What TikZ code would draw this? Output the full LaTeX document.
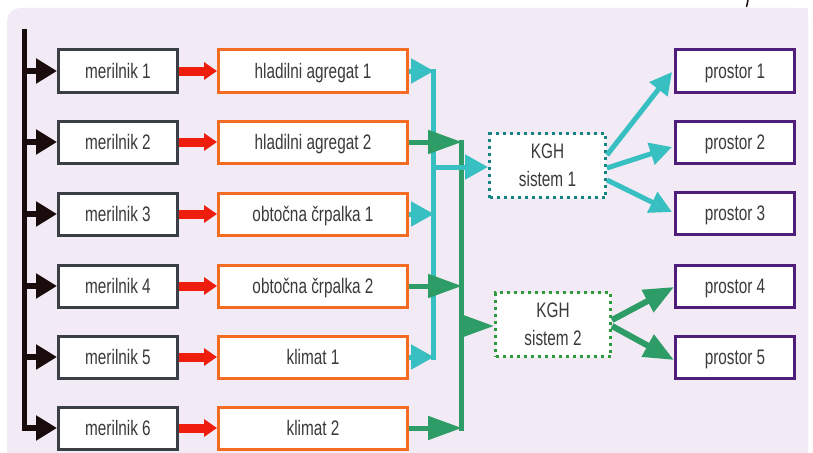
\documentclass[tikz,border=0pt]{standalone}
\usepackage{fontspec}
\setmainfont{Liberation Sans}[FakeStretch=0.73]
\usetikzlibrary{arrows.meta,calc}
\definecolor{bgcol}{HTML}{F2EAF4}
\definecolor{blk}{HTML}{1A0C0C}
\definecolor{mer}{HTML}{3A3F45}
\definecolor{orng}{HTML}{F36C21}
\definecolor{redc}{HTML}{EE1D0E}
\definecolor{cyanc}{HTML}{38BFC1}
\definecolor{greenc}{HTML}{2E9C66}
\definecolor{tealdot}{HTML}{168383}
\definecolor{greendot}{HTML}{2E9A3E}
\definecolor{purp}{HTML}{4E1E7A}
\definecolor{txt}{HTML}{3A3A3A}
\tikzset{
  boxbase/.style={draw, line width=3pt, fill=white, minimum height=42pt, inner sep=0pt,
    text height=15.5pt, text depth=0pt, font=\fontsize{21}{28}\selectfont, text=txt},
  mbox/.style={boxbase, draw=mer, minimum width=119pt},
  obox/.style={boxbase, draw=orng, minimum width=189pt},
  pbox/.style={boxbase, draw=purp, minimum width=119pt},
  kbox/.style={draw, line width=3pt, dash pattern=on 3pt off 4pt, fill=white,
    minimum height=64pt, inner sep=0pt, align=center,
    font=\fontsize{21}{28}\selectfont, text=txt},
  blkarrow/.style={draw=blk, line width=5.5pt, -{Triangle[length=21pt,width=24pt]}},
  redarrow/.style={draw=redc, line width=9pt, -{Triangle[length=13pt,width=17pt]}},
  cyanrow/.style={draw=cyanc, line width=5pt, -{Triangle[length=23pt,width=24pt]}},
  greenrow/.style={draw=greenc, line width=5pt, -{Triangle[length=34pt,width=23pt]}},
  cyandiag/.style={draw=cyanc, line width=5pt, -{Triangle[length=22pt,width=22pt]}},
  greendiag/.style={draw=greenc, line width=6pt, -{Triangle[length=30pt,width=24pt]}},
  busline/.style={line width=5pt}
}
\begin{document}
\begin{tikzpicture}[x=1pt,y=-1pt]
\useasboundingbox (0,0) rectangle (813,452);
\fill[white] (0,0) rectangle (813,452);
\fill[bgcol, rounded corners=13pt] (7,8) rectangle (808,490);
\fill[bgcol] (780,8) rectangle (808,60);
\draw[blk, line width=1.5pt] (748,0) -- (746.5,7);

% merilnik boxes
\node[mbox] (m1) at (118,71) {merilnik 1};
\node[mbox] (m2) at (118,142) {merilnik 2};
\node[mbox] (m3) at (118,214) {merilnik 3};
\node[mbox] (m4) at (118,286) {merilnik 4};
\node[mbox] (m5) at (118,357) {merilnik 5};
\node[mbox] (m6) at (118,428) {merilnik 6};
% orange boxes
\node[obox] (o1) at (313,71) {hladilni agregat 1};
\node[obox] (o2) at (313,142) {hladilni agregat 2};
\node[obox] (o3) at (313,214) {obtočna črpalka 1};
\node[obox] (o4) at (313,286) {obtočna črpalka 2};
\node[obox] (o5) at (313,357) {klimat 1};
\node[obox] (o6) at (313,428) {klimat 2};
% KGH
\node[kbox, draw=tealdot, minimum width=116pt] (k1) at (547.5,165.5) {KGH\\sistem 1};
\node[kbox, draw=greendot, minimum width=115pt] (k2) at (553,324.5) {KGH\\sistem 2};
% prostor
\node[pbox] (p1) at (735,71) {prostor 1};
\node[pbox] (p2) at (735,142) {prostor 2};
\node[pbox] (p3) at (735,213) {prostor 3};
\node[pbox] (p4) at (735,286) {prostor 4};
\node[pbox] (p5) at (735,357) {prostor 5};

% black bus
\coordinate (btop) at (24.5,32);
\coordinate (bbot) at (24.5,428);
\draw[blk, line width=5.5pt, line cap=rect] (btop) -- (bbot);
\foreach \i/\y in {1/71,2/142,3/214,4/286,5/357,6/428}{
  \coordinate (b\i) at (24.5,\y);
  \draw[blkarrow] (b\i) -- (m\i.west);
  \draw[redarrow] (m\i.east) -- (o\i.west);
}

% cyan / green collectors
\coordinate (ctop) at (433.5,68.5);
\coordinate (cbot) at (433.5,359.5);
\coordinate (gtop) at (461.5,139.5);
\coordinate (gbot) at (461.5,430.5);
\draw[cyanc, busline] (ctop) -- (cbot);
\draw[greenc, busline] (gtop) -- (gbot);
\foreach \i/\y in {1/71,3/214,5/357}{
  \coordinate (c\i) at (434,\y);
  \draw[cyanrow] (o\i.east) -- (c\i);
}
\coordinate (ck) at (433.5,167);
\draw[cyanrow] (ck) -- (ck -| k1.west);
\foreach \i/\y in {2/142,4/286,6/428}{
  \coordinate (g\i) at (462,\y);
  \draw[greenrow] (o\i.east) -- (g\i);
}
\coordinate (gk) at (461.5,326);
\draw[greenrow] (gk) -- (gk -| k2.west);

% KGH 1 -> prostor 1-3
\draw[cyandiag] ($(k1.east)+(0,-10.5)$) -- ($(p1.west)+(-2,1)$);
\draw[cyandiag] ($(k1.east)+(0,2.5)$) -- ($(p2.west)+(-2,5)$);
\draw[cyandiag] ($(k1.east)+(0,14.5)$) -- ($(p3.west)+(-2,-1)$);
% KGH 2 -> prostor 4-5
\draw[greendiag] ($(k2.east)+(0,-4.5)$) -- ($(p4.west)+(0,1)$);
\draw[greendiag] ($(k2.east)+(0,1.5)$) -- ($(p5.west)+(0,3)$);
\end{tikzpicture}
\end{document}
